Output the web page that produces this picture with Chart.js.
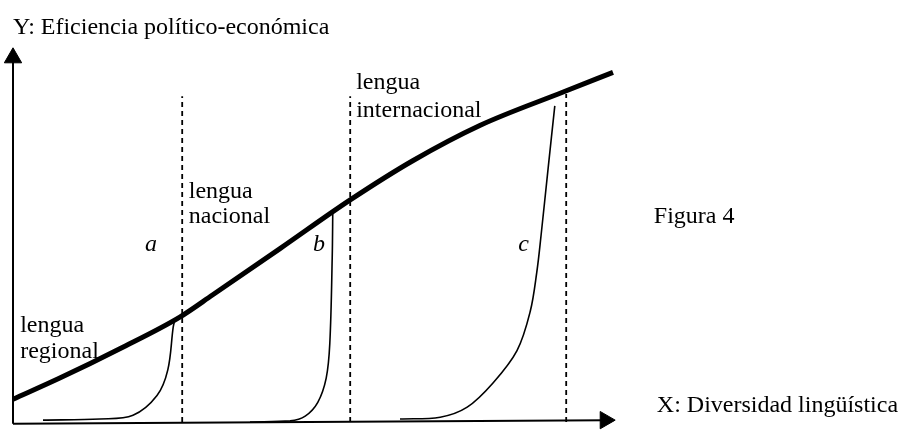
<!DOCTYPE html>
<html lang="es">
<head>
<meta charset="utf-8">
<title>Figura 4</title>
<script src="https://cdn.jsdelivr.net/npm/chart.js@4/dist/chart.umd.min.js"></script>
<style>
    html, body { margin: 0; padding: 0; background: #fff; }
    #wrap { width: 900px; height: 433px; position: relative; }
</style>
</head>
<body>
<div id="wrap"><canvas id="figura"></canvas></div>
<script>
// ============================================
// DATA (x: diversidad 0-100, y: eficiencia 0-100)
// ============================================

const efficiencyX = [0, 7.8, 17.8, 27.8, 33.3, 44.5, 56.2, 66.7, 77.8, 91.7, 100];
const efficiencyY = [6.1, 11.8, 19.7, 28.2, 34.2, 46.6, 59.7, 70.3, 79.7, 88.7, 94.0];

const curveAX = [5, 14.5, 20, 24, 25.8, 26.7, 27];
const curveAY = [0.5, 0.8, 1.8, 7.1, 14.0, 25.5, 27.6];

const curveBX = [39.5, 46.2, 48.7, 50.8, 52.2, 52.8, 53.2, 53.3];
const curveBY = [0, 0.3, 1.6, 5.3, 11.8, 21.1, 44.0, 57.1];

const curveCX = [64.5, 71.2, 75.7, 80, 84, 86.2, 87.3, 88, 89.2, 90.3];
const curveCY = [0.8, 1.3, 4.0, 10.5, 19.2, 29.7, 40.3, 50, 68.4, 85];

// dashed limits between regional / national / international
const limitX = [28.2, 56.2, 92.2];
const limitTop = [87.6, 87.6, 88.2];

const toPoints = (xs, ys) => xs.map((x, i) => ({ x: x, y: ys[i] }));

// ============================================
// TEXT LABELS (data coords, left aligned, baseline)
// ============================================

const labels = [
    { text: 'Y: Eficiencia político-económica', x: 0, y: 104.2 },
    { text: 'lengua', x: 1.2, y: 24.2 },
    { text: 'regional', x: 1.2, y: 17.1 },
    { text: 'lengua', x: 29.3, y: 60.3 },
    { text: 'nacional', x: 29.3, y: 53.4 },
    { text: 'lengua', x: 57.2, y: 89.5 },
    { text: 'internacional', x: 57.2, y: 82.1 },
    { text: 'a', x: 22, y: 46, italic: true },
    { text: 'b', x: 50, y: 46, italic: true },
    { text: 'c', x: 84.2, y: 46, italic: true },
    { text: 'Figura 4', x: 106.8, y: 53.4 },
    { text: 'X: Diversidad lingüística', x: 107.3, y: 2.8 }
];

const textPlugin = {
    id: 'figureText',
    afterDraw(chart) {
        const ctx = chart.ctx;
        const xs = chart.scales.x;
        const ys = chart.scales.y;
        ctx.save();
        ctx.fillStyle = '#000';
        ctx.textBaseline = 'alphabetic';
        ctx.textAlign = 'left';
        labels.forEach(l => {
            ctx.font = (l.italic ? 'italic ' : '') + '24px "Liberation Serif", "Times New Roman", serif';
            ctx.fillText(l.text, xs.getPixelForValue(l.x), ys.getPixelForValue(l.y));
        });
        ctx.restore();
    }
};

// ============================================
// DATASETS
// ============================================

function thinCurve(xs, ys) {
    return {
        data: toPoints(xs, ys),
        borderColor: '#000',
        borderWidth: 1.6,
        pointRadius: 0,
        tension: 0.35,
        fill: false
    };
}

const datasets = [];

limitX.forEach((x, i) => {
    datasets.push({
        data: [{ x: x, y: 0 }, { x: x, y: limitTop[i] }],
        borderColor: '#000',
        borderWidth: 1.8,
        borderDash: [5, 4],
        pointRadius: 0
    });
});

datasets.push(thinCurve(curveAX, curveAY));
datasets.push(thinCurve(curveBX, curveBY));
datasets.push(thinCurve(curveCX, curveCY));

datasets.push({
    data: toPoints(efficiencyX, efficiencyY),
    borderColor: '#000',
    borderWidth: 5,
    borderCapStyle: 'butt',
    pointRadius: 0,
    cubicInterpolationMode: 'monotone'
});

// axes with arrow heads
datasets.push({
    data: [{ x: 0, y: -0.5 }, { x: 0, y: 97.9 }],
    borderColor: '#000',
    borderWidth: 2,
    pointRadius: [0, 10],
    pointStyle: 'triangle',
    pointRotation: 0,
    pointBackgroundColor: '#000',
    pointBorderColor: '#000',
    pointBorderWidth: 1
});
datasets.push({
    data: [{ x: 0, y: -0.5 }, { x: 98.7, y: 0.5 }],
    borderColor: '#000',
    borderWidth: 2,
    pointRadius: [0, 10],
    pointStyle: 'triangle',
    pointRotation: 90,
    pointBackgroundColor: '#000',
    pointBorderColor: '#000',
    pointBorderWidth: 1
});

datasets.forEach(d => { d.clip = false; d.fill = false; });

// ============================================
// CHART
// ============================================

new Chart(document.getElementById('figura'), {
    type: 'line',
    data: { datasets: datasets },
    options: {
        responsive: true,
        maintainAspectRatio: false,
        animation: false,
        layout: { padding: { left: 13, right: 287, top: 50, bottom: 3 } },
        plugins: {
            legend: { display: false },
            tooltip: { enabled: false }
        },
        scales: {
            x: { type: 'linear', min: 0, max: 100, display: false },
            y: { type: 'linear', min: 0, max: 100, display: false }
        }
    },
    plugins: [textPlugin]
});
</script>
</body>
</html>
